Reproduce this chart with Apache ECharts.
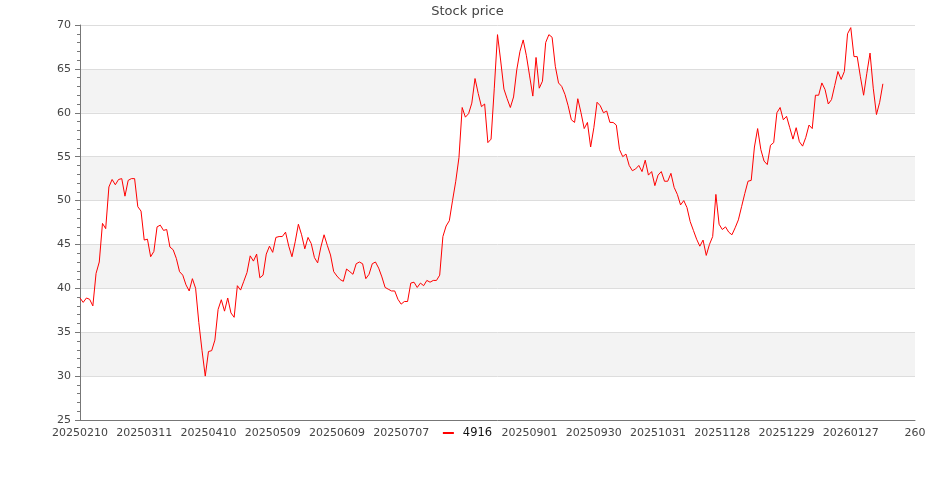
<!DOCTYPE html>
<html>
<head>
<meta charset="utf-8">
<title>Stock price</title>
<script src="https://cdn.jsdelivr.net/npm/echarts@6/dist/echarts.min.js"></script>
<style>
  html, body { margin: 0; padding: 0; background: #fff; }
  #chart { width: 935px; height: 500px; }
</style>
</head>
<body>
<div id="chart"></div>
<script>
// date labels shown every 20 trading days (index 0, 20, 40 ...)
const tickLabels = [
  '20250210', '20250311', '20250410', '20250509', '20250609', '20250707', '20250804',
  '20250901', '20250930', '20251031', '20251128', '20251229', '20260127'
]

const seriesName = '4916'

// daily close
const prices = [
  38.9, 38.4, 38.9, 38.75, 38.0, 41.7, 43.0, 47.4, 46.8, 51.55,
  52.4, 51.8, 52.4, 52.5, 50.5, 52.3, 52.5, 52.5, 49.3, 48.8,
  45.5, 45.6, 43.6, 44.2, 47.0, 47.2, 46.6, 46.7, 44.7, 44.4,
  43.4, 41.9, 41.5, 40.4, 39.7, 41.1, 40.0, 36.1, 32.9, 30.0,
  32.8, 32.9, 34.1, 37.6, 38.7, 37.4, 38.9, 37.2, 36.7, 40.3,
  39.8, 40.8, 41.8, 43.7, 43.1, 43.9, 41.2, 41.5, 43.9, 44.8,
  44.1, 45.8, 45.9, 45.9, 46.4, 44.8, 43.6, 45.3, 47.3, 46.1,
  44.5, 45.8, 45.1, 43.5, 42.9, 44.7, 46.1, 44.9, 43.8, 41.9,
  41.4, 41.0, 40.8, 42.2, 41.9, 41.6, 42.8, 43.0, 42.8, 41.1,
  41.6, 42.8, 43.0, 42.3, 41.3, 40.1, 39.9, 39.7, 39.7, 38.75,
  38.2, 38.5, 38.5, 40.6, 40.7, 40.1, 40.6, 40.3, 40.9, 40.7,
  40.9, 40.9, 41.5, 45.9, 47.1, 47.7, 50.0, 52.2, 54.9, 60.6,
  59.5, 59.9, 61.1, 63.9, 62.2, 60.7, 61.0, 56.6, 57.0, 62.8,
  68.9, 65.9, 62.7, 61.6, 60.6, 61.8, 64.9, 67.0, 68.3, 66.5,
  64.2, 61.9, 66.3, 62.8, 63.6, 68.0, 68.9, 68.6, 65.3, 63.4,
  63.0, 62.1, 60.8, 59.2, 58.9, 61.6, 60.0, 58.2, 58.9, 56.1,
  58.3, 61.2, 60.8, 60.0, 60.2, 58.9, 58.9, 58.6, 55.8, 55.0,
  55.3, 54.0, 53.4, 53.6, 54.0, 53.3, 54.6, 52.9, 53.3, 51.7,
  52.9, 53.3, 52.2, 52.2, 53.1, 51.5, 50.7, 49.5, 50.0, 49.2,
  47.6, 46.6, 45.6, 44.8, 45.5, 43.75, 45.0, 45.9, 50.7, 47.3,
  46.7, 47.0, 46.4, 46.1, 46.9, 47.8, 49.3, 50.8, 52.2, 52.3,
  56.1, 58.2, 55.8, 54.5, 54.1, 56.3, 56.6, 60.0, 60.6, 59.2,
  59.6, 58.3, 57.0, 58.3, 56.7, 56.2, 57.2, 58.6, 58.2, 62.0,
  62.0, 63.4, 62.65, 61.0, 61.5, 63.1, 64.7, 63.8, 64.7, 69.0,
  69.7, 66.4, 66.4, 64.1, 62.0, 64.5, 66.8, 62.8, 59.8, 61.2,
  63.3
]

const fontFamily = 'DejaVu Sans'
const axisColor = '#777'

const chart = echarts.init(document.getElementById('chart'))

chart.setOption({
  animation: false,
  title: {
    text: 'Stock price',
    left: 'center',
    top: 5,
    padding: 0,
    textStyle: { fontSize: 13, fontWeight: 'normal', color: '#444', fontFamily }
  },
  legend: {
    data: [seriesName],
    left: 'center',
    top: 425,
    padding: [2, 5],
    backgroundColor: '#fff',
    icon: 'rect',
    itemWidth: 11,
    itemHeight: 2,
    itemGap: 10,
    textStyle: { fontSize: 11.5, color: '#111', fontFamily, padding: [0, 0, 0, 4] }
  },
  grid: { left: 80, right: 20, top: 25, bottom: 80 },
  xAxis: {
    type: 'value',
    min: 0,
    max: 260,
    interval: 20,
    axisLine: { lineStyle: { color: axisColor } },
    axisTick: { show: false },
    splitLine: { show: false },
    axisLabel: {
      fontSize: 11,
      color: '#444',
      fontFamily,
      margin: 8,
      formatter: v => tickLabels[v / 20] || String(v)
    }
  },
  yAxis: {
    type: 'value',
    min: 25,
    max: 70,
    interval: 5,
    axisLine: { show: true, lineStyle: { color: axisColor } },
    axisTick: { show: true, length: 5, lineStyle: { color: axisColor } },
    minorTick: { show: true, splitNumber: 5, length: 3, lineStyle: { color: axisColor } },
    splitLine: { lineStyle: { color: '#ddd' } },
    splitArea: { show: true, areaStyle: { color: ['#ffffff', '#f3f3f3'] } },
    axisLabel: { fontSize: 11, color: '#444', fontFamily, margin: 9 }
  },
  series: [{
    name: seriesName,
    type: 'line',
    data: prices.map((v, i) => [i, v]),
    symbol: 'none',
    lineStyle: { color: '#ff0000', width: 1 },
    itemStyle: { color: '#ff0000' }
  }]
})
</script>
</body>
</html>
